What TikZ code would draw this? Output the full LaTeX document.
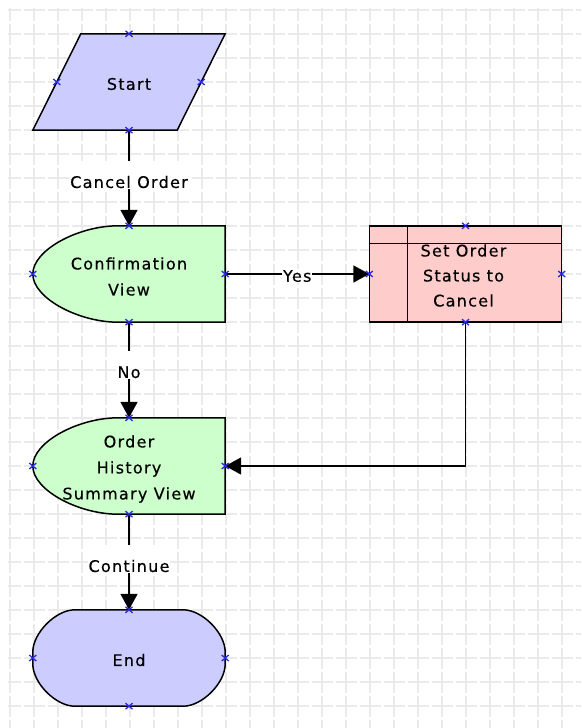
\documentclass[tikz,border=0pt]{standalone}
\usepackage{fontspec}
\setmainfont{DejaVu Sans}[LetterSpace=8, FakeBold=0.4]
\usetikzlibrary{arrows.meta}
\definecolor{bluefill}{RGB}{204,204,255}
\definecolor{greenfill}{RGB}{204,255,204}
\definecolor{pinkfill}{RGB}{255,204,204}
\definecolor{markc}{RGB}{40,40,230}
\definecolor{gridc}{RGB}{234,234,234}
\tikzset{xmark/.pic={\draw[draw=markc, line width=1.3pt] (-3.5pt,-3pt) -- (3.5pt,3pt) (-3.5pt,3pt) -- (3.5pt,-3pt);}}
\begin{document}
\begin{tikzpicture}[x=1pt,y=-1pt,
  shapebox/.style={rectangle, inner sep=0pt, minimum width=192pt, minimum height=96pt},
  outline/.style={draw=black, line width=1.5pt, line join=miter},
  txt/.style={font=\fontsize{16}{26}\selectfont, align=center, inner sep=0pt, text=black},
  conn/.style={line width=1.7pt, -{Triangle[length=16pt,width=17pt]}},
  lbl/.style={font=\fontsize{16}{26}\selectfont, text=black, fill=white, inner xsep=1pt, inner ysep=0pt, text height=27pt, text depth=1pt, anchor=base},
  lblh/.style={font=\fontsize{16}{26}\selectfont, text=black, fill=white, inner sep=1pt, yshift=-2pt},
  gridline/.style={draw=gridc, line width=1.1pt, dash pattern=on 21pt off 3pt, dash phase=8.5pt}
]
\useasboundingbox (0,0) rectangle (581,728);
\fill[white] (0,0) rectangle (581,728);
\foreach \x in {10,34,...,562} \draw[gridline] (\x,8) -- (\x,728);
\foreach \y in {10,34,...,706} \draw[gridline] (8,\y) -- (581,\y);

% shape frames
\node[shapebox] (start) at (129,82) {};
\node[shapebox] (conf) at (129,274) {};
\node[shapebox] (setst) at (465.5,274) {};
\node[shapebox] (hist) at (129,466) {};
\node[shapebox] (end) at (129,658) {};

% Start (parallelogram)
\filldraw[outline, fill=bluefill] ([xshift=48pt]start.north west) -- (start.north east) -- ([xshift=-48pt]start.south east) -- (start.south west) -- cycle;

% Confirmation View (display)
\filldraw[outline, fill=greenfill] (conf.north east) -- ([xshift=-107pt]conf.north east)
  .. controls +(-40pt,0pt) and +(0pt,24pt) .. (conf.west)
  .. controls +(0pt,-24pt) and +(-40pt,0pt) .. ([xshift=-107pt]conf.south east)
  -- (conf.south east) -- cycle;

% Order History Summary View (display)
\filldraw[outline, fill=greenfill] (hist.north east) -- ([xshift=-107pt]hist.north east)
  .. controls +(-40pt,0pt) and +(0pt,24pt) .. (hist.west)
  .. controls +(0pt,-24pt) and +(-40pt,0pt) .. ([xshift=-107pt]hist.south east)
  -- (hist.south east) -- cycle;

% Set Order Status (predefined process)
\filldraw[outline, fill=pinkfill] (setst.north west) rectangle (setst.south east);
\draw[outline] ([xshift=38pt]setst.north west) -- ([xshift=38pt]setst.south west);

% End (terminator)
\filldraw[outline, fill=bluefill] ([xshift=42pt]end.north west) -- ([xshift=-42pt]end.north east)
  .. controls +(19pt,0pt) and +(0pt,19pt) .. ([yshift=6pt]end.east) -- ([yshift=-6pt]end.east)
  .. controls +(0pt,-19pt) and +(19pt,0pt) .. ([xshift=-42pt]end.south east) -- ([xshift=42pt]end.south west)
  .. controls +(-19pt,0pt) and +(0pt,-19pt) .. ([yshift=-6pt]end.west) -- ([yshift=6pt]end.west)
  .. controls +(0pt,19pt) and +(-19pt,0pt) .. ([xshift=42pt]end.north west) -- cycle;

% texts
\node[txt] (startT) at ([yshift=-2pt]start.center) {Start};
\node[txt] (confT) at ([yshift=-2.5pt]conf.center) {Confirmation\\View};
\node[txt, font=\fontsize{16}{25}\selectfont] (setT) at ([xshift=-2pt,yshift=-1.5pt]setst.center) {Set Order\\Status to\\Cancel};
\node[txt] (histT) at ([yshift=-3pt]hist.center) {Order\\History\\Summary View};
\node[txt] (endT) at ([yshift=-2pt]end.center) {End};
\draw[outline] ([yshift=-17.5pt]setst.north west) -- ([yshift=-17.5pt]setst.north east);

% connectors
\draw[conn] (start.south) -- node[lbl, pos=0.604] {Cancel Order} (conf.north);
\draw[conn] (conf.east) -- node[lblh] {Yes} (setst.west);
\draw[conn] (conf.south) -- node[lbl, pos=0.583] {No} (hist.north);
\draw[conn] (setst.south) |- (hist.east);
\draw[conn] (hist.south) -- node[lbl, pos=0.604] {Continue} (end.north);

% connection point markers
\pic at (start.north) {xmark};
\pic at (start.south) {xmark};
\pic at ([xshift=24pt]start.west) {xmark};
\pic at ([xshift=-24pt]start.east) {xmark};
\foreach \n in {conf,setst,hist,end} {
  \pic at (\n.north) {xmark};
  \pic at (\n.south) {xmark};
  \pic at (\n.west) {xmark};
  \pic at (\n.east) {xmark};
}
\end{tikzpicture}
\end{document}
